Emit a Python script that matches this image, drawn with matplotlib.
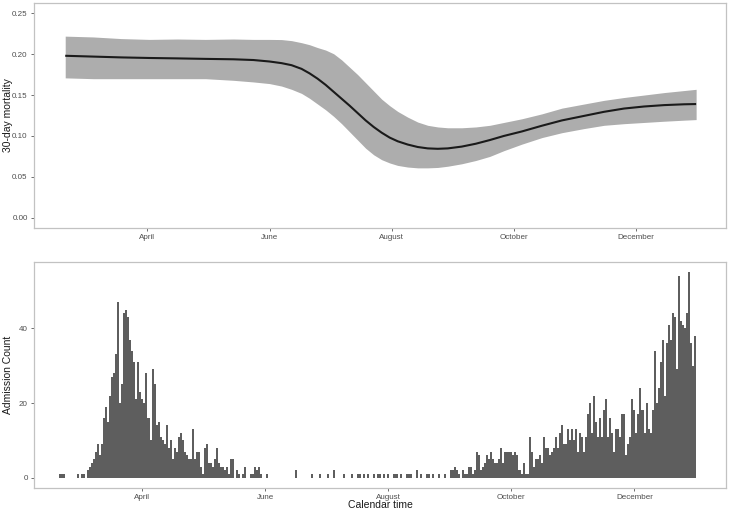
import numpy as np
import matplotlib
matplotlib.use("Agg")
import matplotlib.pyplot as plt

plt.rcParams['font.family'] = ['Liberation Sans', 'DejaVu Sans']

# ---- top panel: smoothed 30-day mortality ----
curve_dates = np.array(['2020-02-20', '2020-03-05', '2020-03-19', '2020-04-02', '2020-04-16',
                        '2020-04-30', '2020-05-14', '2020-05-24', '2020-06-01', '2020-06-07',
                        '2020-06-12', '2020-06-17', '2020-06-21', '2020-06-25', '2020-06-29',
                        '2020-07-03', '2020-07-07', '2020-07-11', '2020-07-15', '2020-07-19',
                        '2020-07-23', '2020-07-27', '2020-07-31', '2020-08-04', '2020-08-09',
                        '2020-08-14', '2020-08-19', '2020-08-24', '2020-08-29', '2020-09-05',
                        '2020-09-12', '2020-09-19', '2020-09-26', '2020-10-05', '2020-10-15',
                        '2020-10-25', '2020-11-05', '2020-11-15', '2020-11-25', '2020-12-05',
                        '2020-12-15', '2020-12-25', '2020-12-31'], dtype='datetime64[D]')
mortality = [0.198, 0.197, 0.196, 0.1953, 0.1948, 0.1942, 0.1937, 0.1928, 0.191, 0.189,
             0.1865, 0.182, 0.1765, 0.170, 0.1625, 0.154, 0.1455, 0.137, 0.128, 0.119,
             0.111, 0.104, 0.098, 0.0935, 0.0895, 0.0865, 0.0848, 0.0843, 0.0848, 0.087,
             0.0905, 0.095, 0.100, 0.1055, 0.1125, 0.119, 0.1245, 0.1295, 0.1335, 0.136,
             0.1377, 0.1387, 0.139]
upper = [0.222, 0.221, 0.219, 0.218, 0.2185, 0.218, 0.2185, 0.218, 0.218, 0.2178,
         0.2165, 0.214, 0.2115, 0.208, 0.205, 0.2005, 0.193, 0.184, 0.175, 0.165,
         0.155, 0.145, 0.137, 0.130, 0.123, 0.117, 0.113, 0.111, 0.110, 0.110,
         0.111, 0.113, 0.1165, 0.121, 0.127, 0.134, 0.139, 0.1435, 0.147, 0.150,
         0.153, 0.1555, 0.157]
lower = [0.171, 0.170, 0.170, 0.170, 0.170, 0.170, 0.168, 0.166, 0.164, 0.161,
         0.157, 0.152, 0.146, 0.139, 0.132, 0.124, 0.115, 0.105, 0.095, 0.085,
         0.077, 0.071, 0.067, 0.064, 0.062, 0.061, 0.061, 0.0615, 0.063, 0.066,
         0.070, 0.075, 0.082, 0.090, 0.098, 0.104, 0.109, 0.113, 0.115, 0.1165,
         0.118, 0.1193, 0.120]

# ---- bottom panel: daily admissions, one list per month ----
counts_feb = [1, 1, 1, 0, 0, 0, 0, 0, 0, 1]  # from 20 Feb
counts_mar = [0, 1, 1, 0, 2, 3, 4, 5, 7, 9, 6, 9, 16, 19, 15, 22, 27, 28, 33, 47,
              20, 25, 44, 45, 43, 37, 34, 31, 21, 31, 23]
counts_apr = [21, 20, 28, 16, 10, 29, 25, 14, 15, 11, 10, 9, 14, 8, 10, 5, 8, 7, 11, 12,
              10, 7, 6, 5, 5, 13, 5, 7, 7, 3]
counts_may = [1, 8, 9, 4, 4, 3, 5, 8, 4, 3, 3, 2, 3, 1, 5, 5, 0, 2, 1, 0,
              1, 3, 0, 0, 1, 1, 3, 2, 3, 1, 0]
counts_jun = [0, 1, 0, 0, 0, 0, 0, 0, 0, 0, 0, 0, 0, 0, 0, 2, 0, 0, 0, 0,
              0, 0, 0, 1, 0, 0, 0, 1, 0, 0]
counts_jul = [0, 1, 0, 0, 2, 0, 0, 0, 0, 1, 0, 0, 0, 1, 0, 0, 1, 1, 0, 1,
              0, 1, 0, 0, 1, 0, 1, 1, 0, 1, 0]
counts_aug = [1, 0, 0, 1, 1, 0, 1, 0, 0, 1, 1, 1, 0, 0, 2, 0, 1, 0, 0, 1,
              1, 0, 1, 0, 0, 1, 0, 0, 1, 0, 0]
counts_sep = [2, 2, 3, 2, 1, 0, 2, 1, 1, 3, 3, 1, 2, 7, 6, 2, 3, 4, 6, 5,
              7, 5, 4, 4, 5, 8, 4, 7, 7, 7]
counts_oct = [7, 6, 7, 6, 2, 1, 4, 1, 1, 11, 7, 3, 5, 5, 6, 4, 11, 8, 8, 6,
              7, 8, 11, 8, 12, 14, 9, 9, 13, 10, 13]
counts_nov = [10, 13, 7, 12, 11, 7, 11, 17, 20, 12, 22, 15, 11, 16, 11, 18, 21, 11, 16, 12,
              7, 13, 13, 11, 17, 17, 6, 9, 11, 21]
counts_dec = [18, 12, 17, 24, 18, 12, 20, 13, 12, 18, 34, 20, 24, 31, 37, 22, 36, 41, 37, 44,
              43, 29, 54, 42, 41, 40, 44, 55, 36, 30, 38]

counts = (counts_feb + counts_mar + counts_apr + counts_may + counts_jun + counts_jul
          + counts_aug + counts_sep + counts_oct + counts_nov + counts_dec)
count_dates = np.datetime64('2020-02-20') + np.arange(len(counts)) * np.timedelta64(1, 'D')

tick_dates = ['2020-04-01', '2020-06-01', '2020-08-01', '2020-10-01', '2020-12-01']
tick_labels = ['April', 'June', 'August', 'October', 'December']

border = '#C2C2C2'
label_col = '#4D4D4D'

fig = plt.figure(figsize=(7.30, 5.13), dpi=100)
fig.patch.set_facecolor('white')
ax1 = fig.add_axes([34 / 730, 1 - 228 / 513, 692 / 730, 225 / 513])
ax2 = fig.add_axes([34 / 730, 1 - 488 / 513, 692 / 730, 226 / 513])

ax1.fill_between(curve_dates, lower, upper, color='#ADADAD', lw=0)
ax1.plot(curve_dates, mortality, color='#1A1A1A', lw=1.5, solid_capstyle='butt')
ax1.set_ylim(-0.0125, 0.2625)
ax1.set_yticks([0.0, 0.05, 0.10, 0.15, 0.20, 0.25])
ax1.set_yticklabels(['0.00', '0.05', '0.10', '0.15', '0.20', '0.25'])
ax1.set_xlim(np.datetime64('2020-02-04T10'), np.datetime64('2021-01-14T22'))
ax1.set_ylabel('30-day mortality', fontsize=7.5, color='#1A1A1A')

ax2.bar(count_dates, counts, width=1.0, color='#5E5E5E', lw=0, align='center')
ax2.set_ylim(-2.75, 57.75)
ax2.set_yticks([0, 20, 40])
ax2.set_xlim(np.datetime64('2020-02-07T05'), np.datetime64('2021-01-15T10'))
ax2.set_ylabel('Admission Count', fontsize=7.5, color='#1A1A1A')
ax2.set_xlabel('Calendar time', fontsize=7.5, color='#1A1A1A')

for ax in (ax1, ax2):
    ax.set_facecolor('white')
    ax.set_xticks([np.datetime64(d) for d in tick_dates])
    ax.set_xticklabels(tick_labels)
    ax.tick_params(axis='both', labelsize=5.8, labelcolor=label_col, color='#555555',
                   length=2.5, width=0.6, pad=2)
    for s in ax.spines.values():
        s.set_color(border)
        s.set_linewidth(0.9)
    ax.yaxis.set_label_coords(-0.031, 0.5)

ax2.xaxis.set_label_coords(0.5, -0.052)

fig.savefig('out.png', dpi=100, facecolor='white')
